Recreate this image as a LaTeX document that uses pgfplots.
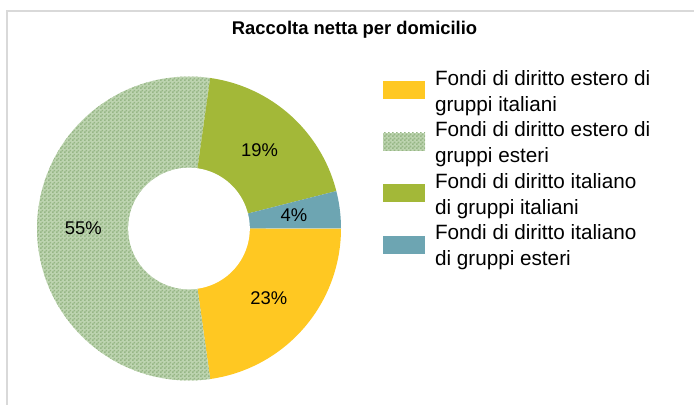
\documentclass[border=0pt]{standalone}
\usepackage{pgfplots}
\pgfplotsset{compat=1.18}
\usepackage{pgfplotstable}
\usepackage{fontspec}
\setmainfont{Liberation Sans}
\usetikzlibrary{patterns}

\definecolor{cYel}{HTML}{FFC822}
\definecolor{cOli}{HTML}{A3B838}
\definecolor{cTea}{HTML}{6DA5B2}
\definecolor{hatchbg}{HTML}{BDD4B0}
\definecolor{hatchfg}{HTML}{96B685}
\definecolor{frame}{HTML}{D9D9D9}

\pgfdeclarepatternformonly{checker}{\pgfqpoint{0pt}{0pt}}{\pgfqpoint{4bp}{4bp}}{\pgfqpoint{4bp}{4bp}}{%
  \pgfpathrectangle{\pgfqpoint{0pt}{0pt}}{\pgfqpoint{2bp}{2bp}}%
  \pgfpathrectangle{\pgfqpoint{2bp}{2bp}}{\pgfqpoint{2bp}{2bp}}%
  \pgfusepath{fill}}

\pgfplotstableread{
share
23
55
19
4
}\datatable

\begin{document}
\begin{tikzpicture}
\useasboundingbox (0,0) rectangle (695bp,405bp);
\draw[frame, line width=1.2bp] (7bp,0) -- (7bp,394bp) -- (694bp,394bp);

\pgfplotstablegetelem{0}{share}\of\datatable \let\vA\pgfplotsretval
\pgfplotstablegetelem{1}{share}\of\datatable \let\vB\pgfplotsretval
\pgfplotstablegetelem{2}{share}\of\datatable \let\vC\pgfplotsretval
\pgfplotstablegetelem{3}{share}\of\datatable \let\vD\pgfplotsretval
\pgfmathsetmacro{\tot}{\vA+\vB+\vC+\vD}
\pgfmathsetmacro{\aA}{-\vA/\tot*360}
\pgfmathsetmacro{\aB}{\aA-\vB/\tot*360}
\pgfmathsetmacro{\aC}{\aB-\vC/\tot*360}
\pgfmathsetmacro{\mA}{\aA/2}
\pgfmathsetmacro{\mB}{(\aA+\aB)/2}
\pgfmathsetmacro{\mC}{(\aB+\aC)/2}
\pgfmathsetmacro{\mD}{(\aC-360)/2}

\begin{axis}[
  at={(37bp,24.5bp)}, anchor=south west,
  x=152bp, y=152bp,
  xmin=-1, xmax=1, ymin=-1, ymax=1,
  axis lines=none, clip=false,
  title={\bfseries Raccolta netta per domicilio},
  title style={at={(1.0444,1.120)}, anchor=base, inner sep=0pt,
    font=\fontsize{18.4bp}{22bp}\selectfont},
  legend image code/.code={\fill[#1,draw=none] (0bp,-15.8bp) rectangle (42bp,2.2bp);},
  legend cell align=left,
  legend style={at={(1.1382,1.030)}, anchor=north west, draw=none, fill=none,
    inner sep=0pt, outer sep=0pt, row sep=19bp, column sep=10bp,
    font=\fontsize{20.7bp}{25.8bp}\selectfont,
    nodes={inner sep=0pt, outer sep=0pt}},
]
\addplot[draw=none, fill=cYel, domain=\aA:0, samples=90, variable=\t]
  ({cos(\t)},{sin(\t)}) -- (axis cs:0,0) -- cycle;
\addlegendentry{\begin{tabular}{@{}l@{}}Fondi di diritto estero di\\gruppi italiani\end{tabular}}
\addplot[draw=none, fill=hatchbg, postaction={pattern=checker, pattern color=hatchfg},
  domain=\aB:\aA, samples=180, variable=\t]
  ({cos(\t)},{sin(\t)}) -- (axis cs:0,0) -- cycle;
\addlegendentry{\begin{tabular}{@{}l@{}}Fondi di diritto estero di\\gruppi esteri\end{tabular}}
\addplot[draw=none, fill=cOli, domain=\aC:\aB, samples=80, variable=\t]
  ({cos(\t)},{sin(\t)}) -- (axis cs:0,0) -- cycle;
\addlegendentry{\begin{tabular}{@{}l@{}}Fondi di diritto italiano\\di gruppi italiani\end{tabular}}
\addplot[draw=none, fill=cTea, domain=-360:\aC, samples=30, variable=\t]
  ({cos(\t)},{sin(\t)}) -- (axis cs:0,0) -- cycle;
\addlegendentry{\begin{tabular}{@{}l@{}}Fondi di diritto italiano\\di gruppi esteri\end{tabular}}
\addplot[draw=none, fill=white, domain=0:360, samples=150, variable=\t, forget plot]
  ({0.4*cos(\t)},{0.4*sin(\t)}) -- cycle;

\begin{scope}[every node/.style={font=\fontsize{18.4bp}{22bp}\selectfont, inner sep=0pt}]
\node at (axis cs:{0.695*cos(\mA)},{0.695*sin(\mA)}) {23\%};
\node at (axis cs:{0.695*cos(\mB)},{0.695*sin(\mB)}) {55\%};
\node at (axis cs:{0.695*cos(\mC)},{0.695*sin(\mC)}) {19\%};
\node at (axis cs:{0.695*cos(\mD)},{0.695*sin(\mD)}) {4\%};
\end{scope}
\end{axis}
\end{tikzpicture}
\end{document}
